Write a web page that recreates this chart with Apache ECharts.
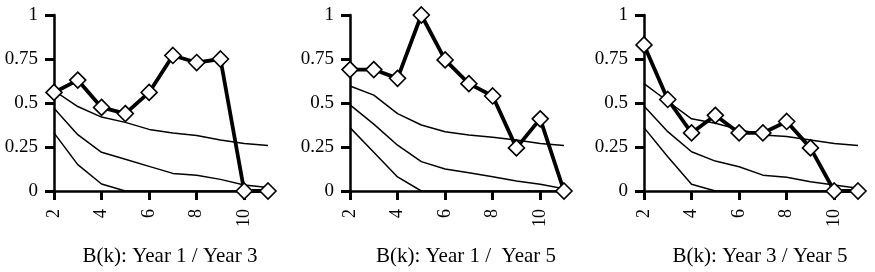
<!DOCTYPE html>
<html>
<head>
<meta charset="utf-8">
<script src="https://cdn.jsdelivr.net/npm/echarts@6/dist/echarts.min.js"></script>
<style>
  html, body { margin: 0; padding: 0; background: #fff; }
  #chart { width: 875px; height: 272px; }
</style>
</head>
<body>
<div id="chart"></div>
<script>
const kValues = ['2', '3', '4', '5', '6', '7', '8', '9', '10', '11']
const yTicks = [0, 0.25, 0.5, 0.75, 1]
const panelTitles = ['B(k): Year 1 / Year 3', 'B(k): Year 1 /  Year 5', 'B(k): Year 3 / Year 5']

// B(k) values (thick line with diamonds)
const bkYear1Year3 = [0.56, 0.63, 0.475, 0.44, 0.56, 0.77, 0.73, 0.75, 0, 0]
const bkYear1Year5 = [0.69, 0.69, 0.64, 1.0, 0.745, 0.61, 0.54, 0.245, 0.41, 0]
const bkYear3Year5 = [0.83, 0.52, 0.33, 0.43, 0.33, 0.33, 0.395, 0.245, 0, 0]

// reference curves (thin lines)
const upper13 = [0.57, 0.48, 0.42, 0.39, 0.35, 0.33, 0.315, 0.29, 0.27, 0.258]
const middle13 = [0.47, 0.32, 0.22, 0.18, 0.14, 0.10, 0.09, 0.066, 0.034, 0.02]
const lower13 = [0.33, 0.15, 0.04, 0, 0, 0, 0, 0, 0, 0]

const upper15 = [0.597, 0.545, 0.44, 0.375, 0.337, 0.318, 0.305, 0.29, 0.27, 0.258]
const middle15 = [0.489, 0.38, 0.26, 0.167, 0.125, 0.104, 0.081, 0.057, 0.038, 0.013]
const lower15 = [0.36, 0.22, 0.08, 0, 0, 0, 0, 0, 0, 0]

const upper35 = [0.61, 0.51, 0.41, 0.385, 0.35, 0.318, 0.31, 0.29, 0.27, 0.258]
const middle35 = [0.483, 0.337, 0.223, 0.17, 0.138, 0.09, 0.078, 0.053, 0.034, 0.015]
const lower35 = [0.36, 0.195, 0.038, 0, 0, 0, 0, 0, 0, 0]

const panels = [
  { title: panelTitles[0], bk: bkYear1Year3, curves: [upper13, middle13, lower13] },
  { title: panelTitles[1], bk: bkYear1Year5, curves: [upper15, middle15, lower15] },
  { title: panelTitles[2], bk: bkYear3Year5, curves: [upper35, middle35, lower35] }
]

const gridLefts = [54, 350, 644]
const gridWidth = 214
const font = 'Liberation Serif'

const chart = echarts.init(document.getElementById('chart'))

const grid = []
const xAxis = []
const yAxis = []
const series = []
const title = []

panels.forEach((p, i) => {
  grid.push({ left: gridLefts[i], top: 15, width: gridWidth, height: 176 })
  title.push({
    text: p.title,
    left: gridLefts[i] + 116,
    top: 246,
    textAlign: 'center',
    padding: 0,
    textStyle: { fontFamily: font, fontSize: 21, fontWeight: 'normal', color: '#000' }
  })
  xAxis.push({
    type: 'category',
    gridIndex: i,
    data: kValues,
    boundaryGap: false,
    axisLine: { lineStyle: { color: '#000', width: 2.5 } },
    axisTick: { interval: 1, length: 9, lineStyle: { color: '#000', width: 3 } },
    axisLabel: { interval: 1, rotate: 90, margin: 18, fontFamily: font, fontSize: 18, color: '#000' },
    splitLine: { show: false }
  })
  yAxis.push({
    type: 'value',
    gridIndex: i,
    min: yTicks[0],
    max: yTicks[yTicks.length - 1],
    interval: yTicks[1] - yTicks[0],
    axisLine: { show: true, lineStyle: { color: '#000', width: 2.5 } },
    axisTick: { show: true, length: 9, lineStyle: { color: '#000', width: 3 } },
    axisLabel: { margin: 16, fontFamily: font, fontSize: 19, color: '#000' },
    splitLine: { show: false }
  })
  p.curves.forEach(c => {
    series.push({
      type: 'line',
      xAxisIndex: i,
      yAxisIndex: i,
      data: c,
      symbol: 'none',
      smooth: false,
      lineStyle: { color: '#000', width: 1.5 },
      silent: true,
      z: 2
    })
  })
  series.push({
    type: 'line',
    xAxisIndex: i,
    yAxisIndex: i,
    data: p.bk,
    symbol: 'diamond',
    symbolSize: 16,
    showAllSymbol: true,
    lineStyle: { color: '#000', width: 3.8 },
    itemStyle: { color: '#fff', borderColor: '#000', borderWidth: 1.6 },
    z: 5
  })
})

chart.setOption({
  animation: false,
  backgroundColor: '#fff',
  title,
  grid,
  xAxis,
  yAxis,
  series
})
</script>
</body>
</html>
